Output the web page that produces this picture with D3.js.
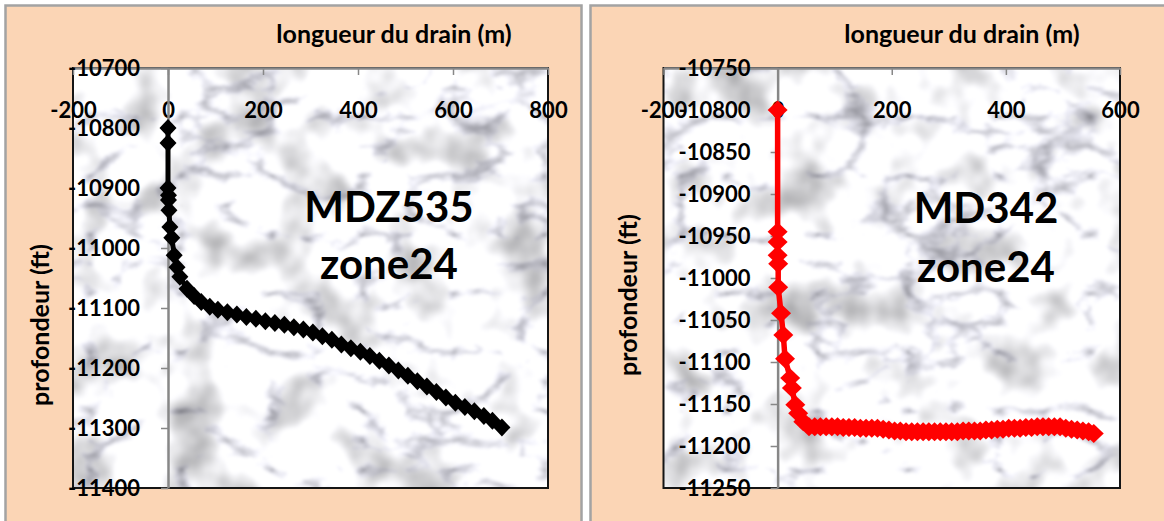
<!DOCTYPE html>
<html>
<head>
<meta charset="utf-8">
<script src="https://cdn.jsdelivr.net/npm/d3@7.9.0/dist/d3.min.js"></script>
<style>
  body { margin: 0; background: #fff; }
  svg { display: block; font-family: Lato, "Open Sans", sans-serif; font-weight: bold; }
</style>
</head>
<body>
<svg id="chart" width="1164" height="521"></svg>
<script>
// MDZ535 zone24 (black)
const mdzX = [0, 0, 0, 1, 1, 2, 4, 8, 13, 19, 25, 40, 55, 70, 88, 105, 125, 145, 165, 185,
  205, 225, 245, 265, 285, 305, 325, 345, 365, 385, 405, 425, 445, 465, 485, 505, 525, 545, 565, 585,
  605, 625, 645, 665, 683, 703];
const mdzY = [-10800, -10825, -10900, -10912, -10920, -10937, -10965, -10983, -11012, -11032,
  -11048, -11068, -11080, -11090, -11098, -11103, -11107, -11111, -11115, -11118,
  -11122, -11125, -11128, -11132, -11136, -11141, -11147, -11153, -11161, -11167,
  -11173, -11180, -11188, -11196, -11204, -11213, -11222, -11231, -11240, -11249,
  -11258, -11265, -11272, -11280, -11288, -11299];

// MD342 zone24 (red)
const mdX = [0, 0, 0, 0, 1, 1, 6, 10, 13, 22, 25, 31, 36, 45,
  55, 65, 75, 85, 95, 105, 115, 125, 135, 145, 155, 165, 175, 185, 195, 205, 215, 225, 235, 245,
  255, 265, 275, 285, 295, 305, 315, 325, 335, 345, 355, 365, 375, 385, 395, 405, 415, 425, 435, 445,
  455, 465, 475, 485, 495, 505, 515, 525, 535, 545, 554];
const mdY = [-10800, -10945, -10957, -10973, -10983, -11011, -11042, -11068, -11096, -11119,
  -11131, -11151, -11161, -11171,
  -11177, -11177, -11177, -11177, -11177, -11177, -11178, -11178, -11178, -11179,
  -11179, -11179, -11179, -11180, -11181, -11182, -11182, -11183, -11183, -11183,
  -11183, -11183, -11183, -11183, -11183, -11183, -11183, -11182, -11182, -11182,
  -11182, -11181, -11181, -11180, -11180, -11179, -11179, -11179, -11178, -11178,
  -11177, -11177, -11177, -11177, -11177, -11179, -11180, -11181, -11182, -11183,
  -11185];

// tick labels
const leftXTicks = [-200, 0, 200, 400, 600, 800];
const leftYTicks = [-10700, -10800, -10900, -11000, -11100, -11200, -11300, -11400];
const rightXTicks = [-200, 0, 200, 400, 600];
const rightYTicks = [-10750, -10800, -10850, -10900, -10950, -11000, -11050, -11100, -11150, -11200, -11250];

const xTitle = 'longueur du drain (m)';
const yTitle = 'profondeur (ft)';

const svg = d3.select('#chart');

/* marble texture for plot areas */
let filter = svg.append('defs').append('filter')
  .attr('id', 'marble')
  .attr('filterUnits', 'userSpaceOnUse')
  .attr('x', 0).attr('y', 0).attr('width', 1164).attr('height', 521)
  .attr('color-interpolation-filters', 'sRGB');
// veins
filter.append('feTurbulence')
  .attr('type', 'turbulence')
  .attr('baseFrequency', '0.011 0.017')
  .attr('numOctaves', 4)
  .attr('seed', 11)
  .attr('result', 'veinNoise');
filter.append('feColorMatrix')
  .attr('in', 'veinNoise')
  .attr('type', 'matrix')
  .attr('values', '1.5 0 0 0 0.70  1.5 0 0 0 0.70  1.5 0 0 0 0.73  0 0 0 0 1')
  .attr('result', 'veins');
// cloudy patches, kept soft
filter.append('feTurbulence')
  .attr('type', 'fractalNoise')
  .attr('baseFrequency', '0.018')
  .attr('numOctaves', 3)
  .attr('seed', 4)
  .attr('result', 'cloudNoise');
filter.append('feColorMatrix')
  .attr('in', 'cloudNoise')
  .attr('type', 'matrix')
  .attr('values', '0.9 0 0 0 0.56  0.9 0 0 0 0.56  0.9 0 0 0 0.57  0 0 0 0 1')
  .attr('result', 'clouds');
filter.append('feComposite')
  .attr('in', 'veins').attr('in2', 'clouds')
  .attr('operator', 'arithmetic')
  .attr('k1', 1).attr('k2', 0).attr('k3', 0).attr('k4', 0)
  .attr('result', 'mix');
filter.append('feGaussianBlur').attr('in', 'mix').attr('stdDeviation', 1.6).attr('result', 'soft');
filter.append('feComposite').attr('in', 'soft').attr('in2', 'SourceGraphic').attr('operator', 'in');

function drawPanel(cfg) {
  // panel background
  svg.append('rect')
    .attr('x', cfg.panel[0]).attr('y', 5.5)
    .attr('width', cfg.panel[1]).attr('height', 540)
    .attr('fill', '#fbd5b5')
    .attr('stroke', '#a3a3a3')
    .attr('stroke-width', 2.5);

  let x = d3.scaleLinear().domain(cfg.xDomain).range([cfg.left, cfg.right]);
  let y = d3.scaleLinear().domain(cfg.yDomain).range([68, 488]);

  svg.append('rect')
    .attr('x', cfg.left).attr('y', 68)
    .attr('width', cfg.right - cfg.left).attr('height', 420)
    .attr('fill', '#fff')
    .attr('filter', 'url(#marble)');

  // frame
  svg.append('rect')
    .attr('x', cfg.left).attr('y', 68)
    .attr('width', cfg.right - cfg.left).attr('height', 420)
    .attr('fill', 'none')
    .attr('stroke', '#151515')
    .attr('stroke-width', 2);

  // x axis on top, labels pushed down into the plot
  let xAxis = svg.append('g')
    .attr('transform', 'translate(0,68)')
    .call(d3.axisBottom(x).tickValues(cfg.xTicks).tickSizeInner(7).tickSizeOuter(0)
      .tickPadding(27).tickFormat(d => String(d)));

  // y axis crossing at x = 0
  let yAxis = svg.append('g')
    .attr('transform', `translate(${x(0)},0)`)
    .call(d3.axisLeft(y).tickValues(cfg.yTicks).tickSizeInner(7).tickSizeOuter(0)
      .tickPadding(cfg.yPad).tickFormat(d => String(d)));

  [xAxis, yAxis].forEach(g => {
    g.select('.domain').attr('stroke', '#878787').attr('stroke-width', 2.5);
    g.selectAll('.tick line').attr('stroke', '#878787').attr('stroke-width', 1.5);
    g.selectAll('.tick text')
      .attr('fill', '#000')
      .style('font-size', '22px')
      .style('font-weight', 'bold')
      .style('font-family', 'Lato, sans-serif');
  });

  // series
  let pts = cfg.xs.map((v, i) => [v, cfg.ys[i]]);
  svg.append('path')
    .datum(pts)
    .attr('d', d3.line().x(d => x(d[0])).y(d => y(d[1])))
    .attr('fill', 'none')
    .attr('stroke', cfg.color)
    .attr('stroke-width', cfg.lineWidth)
    .attr('stroke-linejoin', 'round');

  svg.append('g').selectAll('path')
    .data(pts)
    .join('path')
    .attr('d', d => {
      let cx = x(d[0]), cy = y(d[1]);
      return `M${cx},${cy - cfg.ry}L${cx + cfg.rx},${cy}L${cx},${cy + cfg.ry}L${cx - cfg.rx},${cy}Z`;
    })
    .attr('fill', cfg.color);

  // well name
  let name = svg.append('text')
    .attr('text-anchor', 'middle')
    .style('font-size', '42px')
    .attr('fill', '#000');
  name.append('tspan').attr('x', cfg.nameX).attr('y', cfg.nameY[0]).text(cfg.name[0]);
  name.append('tspan').attr('x', cfg.nameX).attr('y', cfg.nameY[1]).text(cfg.name[1]);

  // axis titles
  svg.append('text')
    .attr('x', cfg.xTitleX).attr('y', 43)
    .attr('text-anchor', 'middle')
    .style('font-size', '25px')
    .text(xTitle);

  svg.append('text')
    .attr('transform', `translate(${cfg.yTitlePos[0]},${cfg.yTitlePos[1]}) rotate(-90)`)
    .attr('text-anchor', 'middle')
    .style('font-size', '25px')
    .text(yTitle);
}

drawPanel({
  panel: [5.5, 576],
  left: 73, right: 548,
  xDomain: [-200, 800], yDomain: [-10700, -11400],
  xTicks: leftXTicks, yTicks: leftYTicks, yPad: 21,
  xs: mdzX, ys: mdzY,
  color: '#000', lineWidth: 5, rx: 8.5, ry: 9,
  name: ['MDZ535', 'zone24'], nameX: 389, nameY: [222, 279],
  xTitleX: 394, yTitlePos: [49, 325]
});

drawPanel({
  panel: [590.5, 600],
  left: 663.5, right: 1120,
  xDomain: [-200, 600], yDomain: [-10750, -11250],
  xTicks: rightXTicks, yTicks: rightYTicks, yPad: 20,
  xs: mdX, ys: mdY,
  color: '#ff0000', lineWidth: 5.5, rx: 10, ry: 9.5,
  name: ['MD342', 'zone24'], nameX: 986, nameY: [223, 282],
  xTitleX: 962, yTitlePos: [637, 295]
});
</script>
</body>
</html>
